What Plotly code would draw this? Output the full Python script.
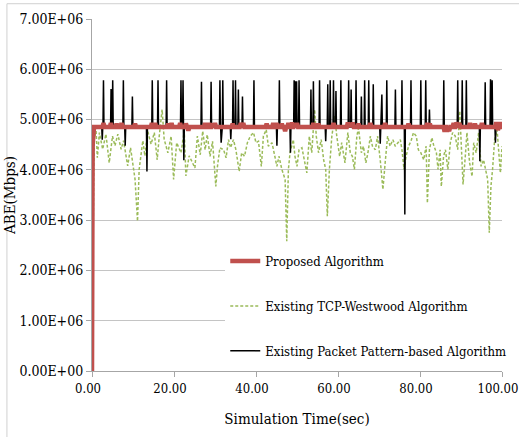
import plotly.graph_objects as go

SCALE = 1e6  # values below are in units of 1E+06

# ---- Proposed Algorithm (red): start-up ramp, then steady level with small bumps
red_level = 4.85
red_start_t = [0.0, 0.15, 0.5]
red_start_v = [0.0, 4.5, 4.85]
red_evt_t = [2.8, 4.6, 6.0, 7.2, 10.5, 14.6, 15.4, 18.6, 19.4, 21.5, 22.9, 23.5, 27.6, 28.6,
             29.4, 30.0, 34.3, 36.3, 36.9, 42.6, 44.2, 45.0, 46.3, 47.1, 47.9, 48.8, 49.4,
             50.0, 54.0, 55.2, 58.9, 62.4, 63.0, 63.6, 65.0, 67.9, 71.5, 77.2, 81.8, 82.4,
             86.0, 86.6, 87.1, 88.2, 88.9, 89.6, 92.2, 93.4, 95.1, 98.6, 99.0, 99.5]
red_evt_v = [4.93, 4.93, 4.92, 4.93, 4.92, 4.93, 4.93, 4.92, 4.93, 4.93, 4.92, 4.78, 4.93, 4.93,
             4.92, 4.93, 4.92, 4.93, 4.93, 4.92, 4.93, 4.93, 4.92, 4.77, 4.93, 4.94, 4.92,
             4.93, 4.93, 4.92, 4.93, 4.94, 4.93, 4.94, 4.92, 4.93, 4.93, 4.92, 4.93, 4.92,
             4.76, 4.76, 4.77, 4.93, 4.94, 4.93, 4.93, 4.92, 4.93, 4.95, 4.79, 4.95]

# ---- Existing TCP-Westwood Algorithm (green dashed)
green_t = [0.0, 0.5, 1.0, 1.3, 1.8, 2.6, 3.4, 4.2, 5.0, 5.6, 6.3, 7.1, 7.7, 8.7, 9.4, 10.1, 10.5,
           11.1, 11.5, 12.4, 12.9, 13.6, 14.4, 15.2, 15.9, 16.4, 17.1, 17.6, 18.5, 19.3, 19.9,
           20.65, 21.7, 22.5, 22.9, 23.7, 24.6, 25.1, 25.7, 26.4, 27.0, 27.6, 28.1, 28.8, 29.4,
           30.2, 30.6, 31.2, 32.1, 32.7, 33.3, 33.8, 34.5, 35.1, 35.9, 36.5, 37.2, 37.9, 38.6,
           39.4, 40.0, 40.6, 41.3, 41.8, 42.5, 43.0, 43.9, 44.4, 45.1, 45.6, 46.3, 47.1, 47.5,
           47.9, 48.3, 49.1, 49.5, 50.0, 50.5, 51.2, 51.8, 52.4, 53.0, 53.6, 54.3, 54.7, 55.25,
           55.9, 56.5, 57.0, 57.4, 57.9, 58.5, 59.2, 59.7, 60.4, 60.9, 61.7, 62.4, 63.0, 63.5,
           64.0, 64.6, 65.0, 65.7, 66.2, 66.8, 67.3, 67.9, 68.4, 69.1, 69.65, 70.3, 70.95, 71.5,
           72.1, 72.7, 73.4, 73.95, 74.8, 75.2, 75.6, 76.1, 76.6, 77.2, 77.8, 78.4, 79.1, 79.6,
           80.2, 80.9, 81.5, 81.8, 82.3, 82.9, 83.3, 84.0, 84.4, 84.9, 85.2, 85.75, 86.2, 86.8,
           87.4, 87.95, 88.6, 89.2, 89.7, 90.2, 90.5, 91.05, 91.45, 92.1, 92.7, 93.1, 93.7, 94.3,
           94.9, 95.5, 95.9, 96.5, 96.9, 97.3, 97.7, 98.2, 98.8, 99.2, 99.6, 100.0]
green_v = [0.0, 4.6, 4.77, 4.24, 4.74, 4.41, 4.71, 4.14, 4.67, 4.48, 4.71, 4.41, 4.58, 4.08, 4.44,
           4.01, 3.81, 2.98, 4.01, 4.58, 4.28, 4.77, 4.51, 4.74, 4.20, 4.67, 5.20, 4.61, 4.34,
           4.67, 3.81, 4.54, 4.34, 4.77, 3.88, 4.28, 4.14, 4.04, 4.67, 4.30, 4.77, 4.40, 4.70,
           4.27, 4.57, 3.67, 4.07, 4.44, 4.40, 4.24, 4.60, 4.44, 4.60, 4.40, 3.97, 4.34, 4.27,
           4.54, 4.67, 4.74, 4.54, 4.57, 4.07, 4.67, 4.80, 4.47, 4.54, 4.34, 4.07, 4.27, 4.01,
           3.81, 2.58, 4.01, 4.34, 4.60, 4.27, 4.07, 4.40, 4.44, 4.17, 3.94, 4.67, 4.34, 5.20,
           4.67, 4.34, 4.60, 4.20, 4.01, 3.08, 4.01, 4.67, 5.07, 4.67, 4.27, 4.54, 4.14, 4.74,
           4.34, 4.27, 4.01, 4.67, 4.83, 4.34, 4.47, 4.14, 4.34, 4.67, 4.47, 4.40, 4.67, 4.20,
           3.61, 4.14, 4.67, 4.47, 4.60, 4.47, 4.57, 4.60, 4.40, 4.01, 4.27, 4.47, 4.57, 4.74,
           4.67, 4.40, 4.34, 4.20, 4.47, 3.34, 4.40, 4.64, 4.50, 4.34, 4.01, 4.40, 3.67, 4.27,
           4.40, 4.01, 4.54, 4.74, 4.67, 4.40, 5.17, 4.01, 3.71, 4.27, 4.74, 4.14, 3.87, 4.54,
           4.34, 4.74, 4.07, 4.20, 4.01, 3.81, 2.75, 3.67, 4.01, 4.60, 4.80, 4.40, 3.94, 4.47]

# ---- Existing Packet Pattern-based Algorithm (black): steady level with spikes and dips
black_level = 4.85
black_start_t = [0.0, 0.4]
black_start_v = [0.0, 4.85]
black_evt_t = [2.5, 2.8, 4.65, 5.05, 7.65, 8.1, 9.85, 13.4, 14.7, 16.1, 18.2, 21.7, 22.2, 22.4,
               26.7, 29.05, 31.2, 31.5, 31.9, 33.85, 34.4, 35.0, 35.7, 36.7, 39.5, 45.1, 45.7,
               48.4, 49.3, 49.6, 49.9, 50.5, 53.4, 54.0, 55.5, 57.0, 57.5, 58.1, 58.9, 59.5,
               60.7, 62.6, 63.2, 64.4, 65.7, 66.5, 67.5, 68.6, 70.3, 70.7, 71.9, 74.0, 75.6,
               76.3, 77.8, 80.2, 81.4, 82.3, 85.8, 89.2, 90.3, 91.3, 94.6, 95.9, 97.2, 97.6, 98.4]
black_evt_v = [4.60, 5.78, 5.61, 5.78, 5.78, 4.48, 5.46, 3.97, 5.78, 5.78, 5.78, 5.78, 5.78, 4.19,
               5.75, 5.75, 5.78, 4.54, 5.78, 4.61, 5.78, 5.78, 5.60, 5.46, 5.78, 4.48, 5.78,
               4.34, 5.78, 5.76, 5.76, 5.78, 5.60, 5.76, 5.78, 4.57, 5.70, 5.78, 5.78, 5.57,
               5.78, 5.78, 5.60, 5.78, 5.46, 5.78, 5.78, 5.70, 4.52, 5.50, 5.78, 5.60, 5.78,
               3.11, 5.78, 5.78, 5.78, 5.20, 5.78, 5.78, 5.78, 5.78, 4.17, 5.74, 5.80, 5.78, 4.54]

x_ticks = [0, 20, 40, 60, 80, 100]
x_ticktext = ["0.00", "20.00", "40.00", "60.00", "80.00", "100.00"]
y_ticks = [0, 1, 2, 3, 4, 5, 6, 7]
y_ticktext = ["0.00E+00", "1.00E+06", "2.00E+06", "3.00E+06", "4.00E+06", "5.00E+06",
              "6.00E+06", "7.00E+06"]


def with_level(start_t, start_v, evt_t, evt_v, level, half, end_t=100.0):
    xs, ys = list(start_t), list(start_v)
    for t, v in zip(evt_t, evt_v):
        xs += [t - half, t, t + half]
        ys += [level, v, level]
    xs.append(end_t)
    ys.append(level)
    return xs, [y * SCALE for y in ys]


rx, ry = with_level(red_start_t, red_start_v, red_evt_t, red_evt_v, red_level, 0.25)
bx, by = with_level(black_start_t, black_start_v, black_evt_t, black_evt_v, black_level, 0.12)

FONT = "DejaVu Serif Condensed"

fig = go.Figure()
fig.add_trace(go.Scatter(x=green_t, y=[v * SCALE for v in green_v], mode="lines",
                         name="Existing TCP-Westwood Algorithm", legendrank=2, legendgroup="b",
                         line=dict(color="#9bbb59", width=1.5, dash="3px,2px")))
fig.add_trace(go.Scatter(x=bx, y=by, mode="lines",
                         name="Existing Packet Pattern-based Algorithm", legendrank=3,
                         legendgroup="c", line=dict(color="#000000", width=1.5)))
fig.add_trace(go.Scatter(x=rx, y=ry, mode="lines", name="Proposed Algorithm", legendrank=1,
                         legendgroup="a", line=dict(color="#c0504d", width=4.5)))

fig.update_layout(
    width=519, height=437,
    margin=dict(l=92, r=17, t=19, b=66, autoexpand=False),
    paper_bgcolor="white", plot_bgcolor="white",
    font=dict(family=FONT, size=14, color="#000000"),
    showlegend=True,
    legend=dict(x=0.325, y=0.355, xanchor="left", yanchor="top", bgcolor="white",
                traceorder="grouped", tracegroupgap=25,
                font=dict(family=FONT, size=13, color="#000000")),
    shapes=[dict(type="rect", xref="paper", yref="paper", x0=-0.2075, x1=1.2, y0=-0.4,
                 y1=1.0434, line=dict(color="#d0d0d0", width=1), fillcolor="rgba(0,0,0,0)",
                 layer="below")],
)
fig.update_xaxes(range=[0, 100], tickvals=x_ticks, ticktext=x_ticktext, showgrid=False,
                 showline=True, linecolor="#a6a6a6", linewidth=1, ticks="outside", ticklen=5,
                 tickcolor="#a6a6a6", zeroline=False, ticklabeloverflow="allow",
                 ticklabelshift=-4,
                 tickfont=dict(family=FONT, size=13), automargin=True,
                 title=dict(text="Simulation Time(sec)", font=dict(family=FONT, size=15),
                            standoff=18))
fig.update_yaxes(range=[0, 7 * SCALE], tickvals=[v * SCALE for v in y_ticks], ticktext=y_ticktext,
                 showgrid=True, gridcolor="#c4c4c4", gridwidth=1, showline=True,
                 linecolor="#a6a6a6", linewidth=1, ticks="outside", ticklen=5,
                 tickcolor="#a6a6a6", zeroline=False, automargin=True,
                 title=dict(text="ABE(Mbps)", font=dict(family=FONT, size=15), standoff=0))

fig.write_html("out.html")
